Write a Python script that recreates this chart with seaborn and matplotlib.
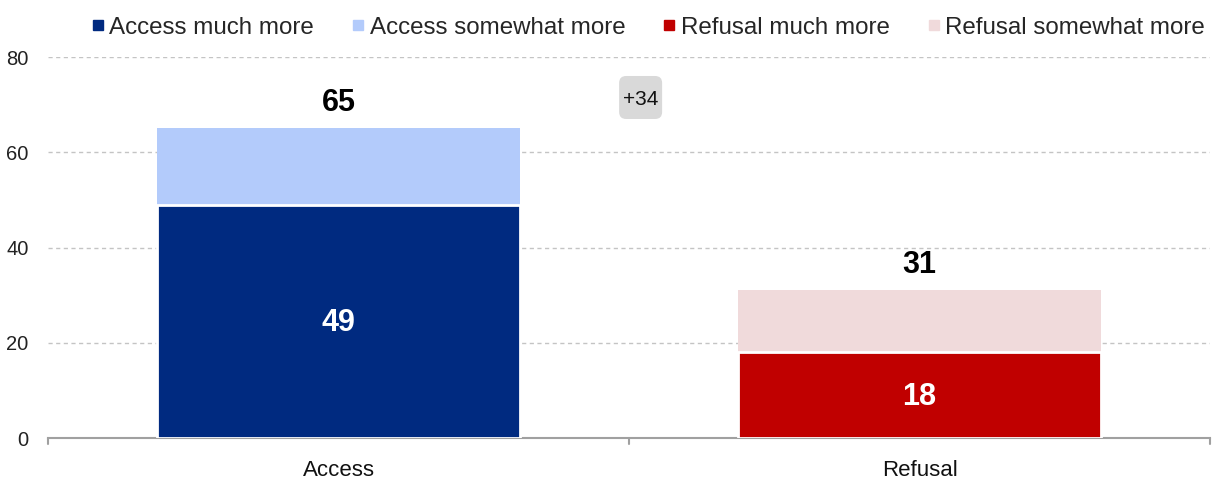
import matplotlib
matplotlib.use("Agg")
import matplotlib.pyplot as plt
import matplotlib.transforms as mtransforms
from matplotlib.patches import FancyBboxPatch
import seaborn as sns
import pandas as pd
from matplotlib.lines import Line2D

categories = ["Access", "Refusal"]
much_more = [49, 18]
somewhat_more = [16, 13]
gap_label = "+34"
legend_labels = ["Access much more", "Access somewhat more", "Refusal much more", "Refusal somewhat more"]
dark_colors = ["#002a80", "#c00000"]
light_colors = ["#b3cbfb", "#f0dadb"]
yticks = [0, 20, 40, 60, 80]

totals = [m + s for m, s in zip(much_more, somewhat_more)]
df = pd.DataFrame({"cat": categories, "much": much_more, "total": totals})

sns.set_theme(style="white")
plt.rcParams["font.family"] = ["Liberation Sans", "DejaVu Sans"]

fig = plt.figure(figsize=(12.15, 4.97), dpi=100)
ax = fig.add_axes([0.0395, 0.1187, 0.9564, 0.7666])

sns.barplot(data=df, x="cat", y="total", hue="cat", palette=light_colors, width=0.625,
            saturation=1, legend=False, ax=ax, linewidth=0, zorder=2)
sns.barplot(data=df, x="cat", y="much", hue="cat", palette=dark_colors, width=0.625,
            saturation=1, legend=False, ax=ax, edgecolor="white", linewidth=2, zorder=3)

ax.set_xlim(-0.5, 1.5)
ax.set_ylim(0, 80)
ax.set_yticks(yticks)
ax.set_yticklabels([str(v) for v in yticks], fontsize=14.5, color="#222222")
ax.yaxis.grid(True, linestyle=(0, (3, 2.5)), color="#c4c4c4", linewidth=1, zorder=0)
ax.set_axisbelow(True)
for s in ["left", "right", "top"]:
    ax.spines[s].set_visible(False)
ax.spines["bottom"].set_color("#a0a0a0")
ax.spines["bottom"].set_linewidth(1.5)
ax.tick_params(axis="y", length=0, pad=14)
ax.set_xticks([0, 1])
ax.set_xticklabels(categories, fontsize=16, color="#111111")
ax.tick_params(axis="x", length=0, pad=16)
for xb in [-0.5, 0.5, 1.5]:
    ax.plot([xb, xb], [0, -1.3], color="#a0a0a0", lw=1.5, clip_on=False, zorder=5)
ax.set_xlabel("")
ax.set_ylabel("")

for i in range(len(categories)):
    ax.text(i, much_more[i] / 2 - 2.0, str(much_more[i]), ha="center", va="baseline",
            fontsize=22, fontweight="bold", color="white", zorder=6)
    ax.text(i, totals[i] + 3.6, str(totals[i]), ha="center", va="baseline",
            fontsize=22, fontweight="bold", color="black", zorder=6)

# gap badge
bx, by = 0.52, 71.5
badge_tr = fig.dpi_scale_trans + mtransforms.ScaledTranslation(bx, by, ax.transData)
badge = FancyBboxPatch((-0.19, -0.19), 0.38, 0.38,
                       boxstyle="round,pad=0.025,rounding_size=0.07",
                       fc="#d9d9d9", ec="none", transform=badge_tr, zorder=5, clip_on=False)
ax.add_patch(badge)
ax.text(bx, by, gap_label, ha="center", va="center_baseline", fontsize=15, color="#111111", zorder=6)

handles = []
cols = [dark_colors[0], light_colors[0], dark_colors[1], light_colors[1]]
for c in cols:
    handles.append(Line2D([], [], marker="s", linestyle="none", markersize=7.2,
                          markerfacecolor=c, markeredgecolor=c))
fig.legend(handles, legend_labels, loc="center", bbox_to_anchor=(0.534, 0.944), ncol=4,
           frameon=False, fontsize=17.4, handletextpad=0.25, columnspacing=1.6,
           handlelength=0.45, borderaxespad=0, borderpad=0)

fig.savefig("out.png", dpi=100)
